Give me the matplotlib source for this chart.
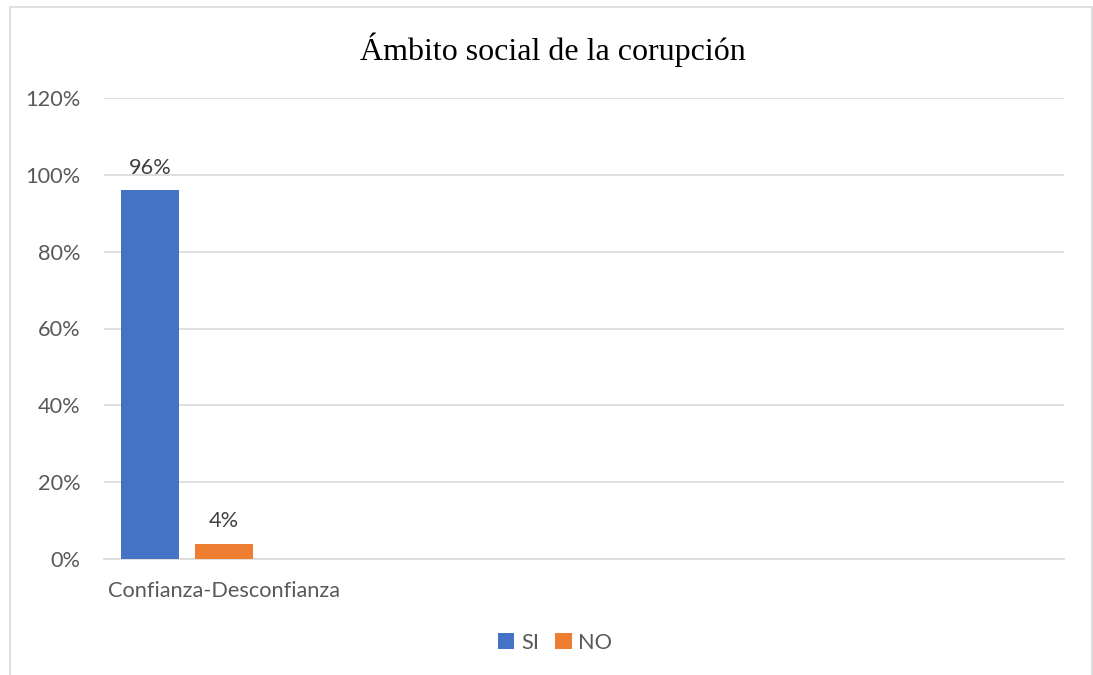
import matplotlib
matplotlib.use("Agg")
import matplotlib.pyplot as plt
from matplotlib.patches import Rectangle
from matplotlib.ticker import FuncFormatter

categories = ["Confianza-Desconfianza"]
series_names = ["SI", "NO"]
si_values = [0.96]
no_values = [0.04]
yticks = [0, 0.2, 0.4, 0.6, 0.8, 1.0, 1.2]

colors = ["#4472C4", "#ED7D31"]
gray = "#595959"
font = "Lato"
fs = 15.7

fig = plt.figure(figsize=(10.93, 6.75), dpi=100)
fig.patches.append(Rectangle((10/1093, -0.05), (1092-10)/1093, 1.05-7/675, transform=fig.transFigure,
                             fill=False, edgecolor="#d9d9d9", linewidth=1.2))
ax = fig.add_axes([104/1093, 1-559/675, 960/1093, (559-98)/675])

width = 0.2417
offsets = [-0.308, 0.0]
centers = [0.5 + i for i in range(len(categories))]
for vals, name, col, off in zip([si_values, no_values], series_names, colors, offsets):
    xs = [c + off for c in centers]
    ax.bar(xs, vals, width=width, color=col, label=name, zorder=3)
    for x, v in zip(xs, vals):
        ax.annotate(f"{v*100:.0f}%", (x, v), xytext=(0, 9), textcoords="offset points",
                    ha="center", va="bottom", fontsize=fs, color="#404040", family=font)

ax.set_xlim(0, 4)
ax.set_ylim(0, 1.2)
ax.set_yticks(yticks)
ax.yaxis.set_major_formatter(FuncFormatter(lambda v, p: f"{v*100:.0f}%"))
ax.set_xticks(centers)
ax.set_xticklabels(categories)
ax.grid(axis="y", color="#d9d9d9", linewidth=1.2, zorder=0)
for s in ["top", "right", "left"]:
    ax.spines[s].set_visible(False)
ax.spines["bottom"].set_color("#d9d9d9")
ax.spines["bottom"].set_linewidth(1.2)
ax.tick_params(axis="both", length=0, colors=gray, labelsize=fs)
ax.tick_params(axis="y", pad=17)
ax.tick_params(axis="x", pad=16)
for lab in ax.get_xticklabels() + ax.get_yticklabels():
    lab.set_family(font)

fig.text(553/1093, 1-50/675, "Ámbito social de la corupción", ha="center", va="center",
         fontsize=23, family="Liberation Serif", color="black")

leg = fig.legend(loc="center", bbox_to_anchor=(555/1093, 1-643/675), ncol=2, frameon=False,
                 handlelength=0.75, handleheight=0.75, handletextpad=0.3, columnspacing=0.75,
                 prop={"family": font, "size": fs})
for t in leg.get_texts():
    t.set_color(gray)

fig.savefig("out.png", dpi=100)
